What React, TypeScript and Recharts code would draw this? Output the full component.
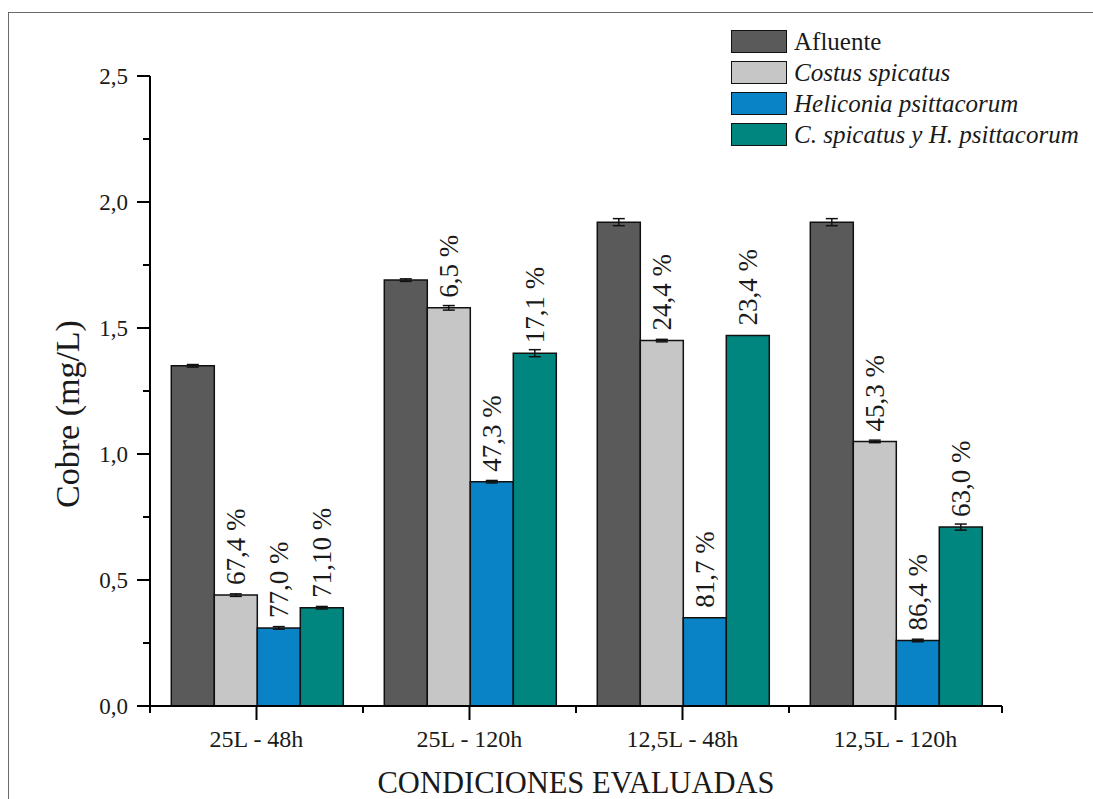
import React from 'react';
import { BarChart, Bar, XAxis, YAxis, ErrorBar, LabelList, Legend } from 'recharts';

// Copper concentration (mg/L) per evaluated condition and treatment
const categories = ['25L - 48h', '25L - 120h', '12,5L - 48h', '12,5L - 120h'];
const afluente = [1.35, 1.69, 1.92, 1.92];
const afluenteErr = [0.005, 0.005, 0.014, 0.014];
const costus = [0.44, 1.58, 1.45, 1.05];
const costusErr = [0.005, 0.009, 0.005, 0.005];
const heliconia = [0.31, 0.89, 0.35, 0.26];
const heliconiaErr: (number | null)[] = [0.005, 0.005, null, 0.005];
const mixed = [0.39, 1.4, 1.47, 0.71];
const mixedErr: (number | null)[] = [0.005, 0.014, null, 0.012];

// Removal percentages printed above each treatment bar
const costusRemoval = ['67,4 %', '6,5 %', '24,4 %', '45,3 %'];
const heliconiaRemoval = ['77,0 %', '47,3 %', '81,7 %', '86,4 %'];
const mixedRemoval = ['71,10 %', '17,1 %', '23,4 %', '63,0 %'];

const yTicks = [0, 0.25, 0.5, 0.75, 1, 1.25, 1.5, 1.75, 2, 2.25, 2.5];

const data = categories.map((category, i) => ({
  category,
  afluente: afluente[i],
  afluenteErr: afluenteErr[i],
  costus: costus[i],
  costusErr: costusErr[i],
  costusLabel: costusRemoval[i],
  heliconia: heliconia[i],
  heliconiaErr: heliconiaErr[i],
  heliconiaLabel: heliconiaRemoval[i],
  mixed: mixed[i],
  mixedErr: mixedErr[i],
  mixedLabel: mixedRemoval[i],
}));

const series = [
  { key: 'afluente', err: 'afluenteErr', label: null, name: 'Afluente', color: '#5a5a5a', italic: false },
  { key: 'costus', err: 'costusErr', label: 'costusLabel', name: 'Costus spicatus', color: '#c6c6c6', italic: true },
  { key: 'heliconia', err: 'heliconiaErr', label: 'heliconiaLabel', name: 'Heliconia psittacorum', color: '#0a82c6', italic: true },
  { key: 'mixed', err: 'mixedErr', label: 'mixedLabel', name: 'C. spicatus y H. psittacorum', color: '#00857f', italic: true },
];

const FONT = '"Liberation Serif", "Times New Roman", serif';
const TEXT = '#1a1a1a';

const W = 1093;
const H = 799;
const MARGIN = { top: 76, right: 91, bottom: 0, left: 10 };
const Y_AXIS_W = 140;
const X_AXIS_H = 93;
const PLOT_W = W - MARGIN.left - MARGIN.right - Y_AXIS_W;

const Y_TICK_SIZE = 13;
const Y_TICK_MARGIN = 9;
const X_TICK_SIZE = 14;
const X_TICK_MARGIN = 6;

const fmt = (v: number) => v.toFixed(1).replace('.', ',');

const YTick = (props: any) => {
  const { x, y, payload } = props;
  const axisX = x + Y_TICK_MARGIN + Y_TICK_SIZE;
  const v = payload.value as number;
  const major = Math.abs(v * 2 - Math.round(v * 2)) < 1e-6;
  return (
    <g>
      <line x1={axisX} x2={axisX - (major ? Y_TICK_SIZE : 7)} y1={y} y2={y} stroke="#000" strokeWidth={2} />
      {major && (
        <text x={x} y={y} textAnchor="end" dominantBaseline="central" fontFamily={FONT} fontSize={23} fill={TEXT}>
          {fmt(v)}
        </text>
      )}
    </g>
  );
};

const XTick = (props: any) => {
  const { x, y, payload, index } = props;
  const axisY = y - X_TICK_MARGIN - X_TICK_SIZE;
  const band = PLOT_W / categories.length;
  const last = index === categories.length - 1;
  return (
    <g>
      <line x1={x} x2={x} y1={axisY} y2={axisY + X_TICK_SIZE} stroke="#000" strokeWidth={2} />
      <line x1={x - band / 2} x2={x - band / 2} y1={axisY} y2={axisY + 7} stroke="#000" strokeWidth={2} />
      {last && <line x1={x + band / 2} x2={x + band / 2} y1={axisY} y2={axisY + 7} stroke="#000" strokeWidth={2} />}
      <text x={x} y={axisY + 41} textAnchor="middle" fontFamily={FONT} fontSize={24} fill={TEXT}>
        {payload.value}
      </text>
    </g>
  );
};

const RemovalLabel = (props: any) => {
  const { x, y, width, value } = props;
  const cx = Number(x) + Number(width) / 2;
  const ty = Number(y) - 10;
  return (
    <text
      x={cx}
      y={ty}
      transform={`rotate(-90 ${cx} ${ty})`}
      textAnchor="start"
      dominantBaseline="central"
      fontFamily={FONT}
      fontSize={27}
      fill={TEXT}
    >
      {value}
    </text>
  );
};

const yTitle = (p: any) => {
  const vb = p.viewBox;
  const cx = vb.x + vb.width - 83;
  const cy = vb.y + 338;
  return (
    <text
      x={cx}
      y={cy}
      transform={`rotate(-90 ${cx} ${cy})`}
      textAnchor="middle"
      dominantBaseline="central"
      fontFamily={FONT}
      fontSize={34}
      fill={TEXT}
    >
      Cobre (mg/L)
    </text>
  );
};

const xTitle = (p: any) => {
  const vb = p.viewBox;
  return (
    <text
      x={vb.x + vb.width / 2}
      y={vb.y + 87}
      textAnchor="middle"
      fontFamily={FONT}
      fontSize={31}
      textLength={397}
      lengthAdjust="spacingAndGlyphs"
      fill={TEXT}
    >
      CONDICIONES EVALUADAS
    </text>
  );
};

const LegendBox = () => (
  <div style={{ fontFamily: FONT, fontSize: 25, color: TEXT }}>
    {series.map((s) => (
      <div key={s.key} style={{ display: 'flex', alignItems: 'center', height: 31 }}>
        <div
          style={{
            width: 54,
            height: 21,
            background: s.color,
            border: '1.5px solid #111',
            marginRight: 7,
          }}
        />
        <span style={{ fontStyle: s.italic ? 'italic' : 'normal', whiteSpace: 'nowrap', lineHeight: '25px' }}>
          {s.name}
        </span>
      </div>
    ))}
  </div>
);

export default function App() {
  return (
    <div style={{ position: 'absolute', left: 0, top: 0, width: W, height: H, overflow: 'hidden', background: '#fff' }}>
      <div
        style={{
          position: 'absolute',
          left: 8,
          top: 12,
          width: W + 20,
          height: H + 20,
          borderLeft: '1.5px solid #6a6a6a',
          borderTop: '1.5px solid #6a6a6a',
        }}
      />
      <BarChart
        width={W}
        height={H}
        data={data}
        margin={MARGIN}
        barCategoryGap="10%"
        barGap={0}
      >
        <XAxis
          dataKey="category"
          height={X_AXIS_H}
          axisLine={{ stroke: '#000', strokeWidth: 2 }}
          tickLine={false}
          tickSize={X_TICK_SIZE}
          tickMargin={X_TICK_MARGIN}
          tick={<XTick />}
          interval={0}
          label={{ content: xTitle }}
        />
        <YAxis
          width={Y_AXIS_W}
          domain={[0, 2.5]}
          ticks={yTicks}
          interval={0}
          axisLine={{ stroke: '#000', strokeWidth: 2 }}
          tickLine={false}
          tickSize={Y_TICK_SIZE}
          tickMargin={Y_TICK_MARGIN}
          tick={<YTick />}
          label={{ content: yTitle }}
        />
        <Legend
          layout="vertical"
          align="center"
          verticalAlign="middle"
          content={<LegendBox />}
          wrapperStyle={{ left: 731, top: 26, width: 362, height: 124 }}
        />
        {series.map((s) => (
          <Bar
            key={s.key}
            dataKey={s.key}
            name={s.name}
            fill={s.color}
            stroke="#111"
            strokeWidth={1.5}
            isAnimationActive={false}
          >
            <ErrorBar dataKey={s.err} width={6} stroke="#111" strokeWidth={1.5} />
            {s.label && <LabelList dataKey={s.label} content={<RemovalLabel />} />}
          </Bar>
        ))}
      </BarChart>
    </div>
  );
}
